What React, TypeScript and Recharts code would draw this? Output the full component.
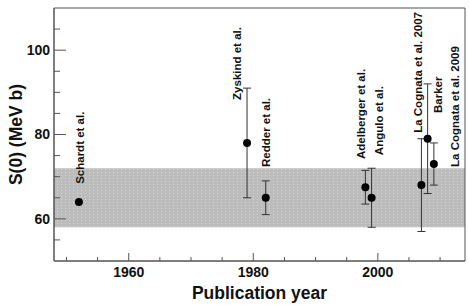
import React from 'react';
import { ComposedChart, Scatter, XAxis, YAxis, ErrorBar, ReferenceArea } from 'recharts';

const authors = ['Schardt et al.', 'Zyskind et al.', 'Redder et al.', 'Adelberger et al.', 'Angulo et al.', 'La Cognata et al. 2007', 'Barker', 'La Cognata et al. 2009'];
const years = [1952, 1979, 1982, 1998, 1999, 2007, 2008, 2009];
const s0Values = [64, 78, 65, 67.5, 65, 68, 79, 73];
const s0Errors = [0, 13, 4, 4, 7, 11, 13, 5];
// annotation anchors (data units): year, S(0) at start of rotated text
const labelYears = [1952.2, 1977.4, 1982.1, 1997.2, 2000.1, 2006.4, 2009.6, 2012.3];
const labelValues = [68.3, 88.2, 72.3, 74.2, 75.1, 80.4, 85.1, 72.3];
const bandLow = 58;
const bandHigh = 72;
const xDomain = [1948, 2014];
const yDomain = [50, 110];
const xTicks = [1950, 1955, 1960, 1965, 1970, 1975, 1980, 1985, 1990, 1995, 2000, 2005, 2010];
const xLabels = [1960, 1980, 2000];
const yTicks = [55, 60, 65, 70, 75, 80, 85, 90, 95, 100, 105];
const yLabels = [60, 80, 100];

const points = years.map((y, i) => ({ year: y, s: s0Values[i], err: s0Errors[i] }));
const labels = authors.map((a, i) => ({ year: labelYears[i], s: labelValues[i], name: a }));
const xTickMarks = xTicks.map((t) => ({ year: t, s: yDomain[0], major: xLabels.includes(t) }));
const yTickMarks = yTicks.map((t) => ({ year: xDomain[0], s: t, major: yLabels.includes(t) }));

const FONT = '"Liberation Sans", Arial, Helvetica, sans-serif';
const AXIS = '#555';

const Dot = (p: any) => <circle cx={p.cx} cy={p.cy} r={4} fill="#000" />;

const XMark = (p: any) => (
  <line x1={p.cx} x2={p.cx} y1={p.cy} y2={p.cy - (p.payload.major ? 8 : 4)} stroke={AXIS} strokeWidth={1} />
);
const YMark = (p: any) => (
  <line x1={p.cx} x2={p.cx + (p.payload.major ? 12 : 6)} y1={p.cy} y2={p.cy} stroke={AXIS} strokeWidth={1} />
);

const Label = (p: any) => (
  <text
    x={p.cx}
    y={p.cy}
    dy="0.36em"
    transform={`rotate(-90 ${p.cx} ${p.cy})`}
    fontFamily={FONT}
    fontWeight="bold"
    fontSize={11.5}
    fill="#111"
  >
    {p.payload.name}
  </text>
);

const tickStyle = { fontFamily: FONT, fontWeight: 'bold', fontSize: 14, fill: '#111' };

export default function App() {
  return (
    <div style={{ position: 'absolute', left: 0, top: 0, background: '#fff' }}>
      <ComposedChart width={469} height={305} margin={{ top: 8, right: 4, bottom: 0, left: 0 }}>
        <defs>
          <pattern id="band" width="4" height="3" patternUnits="userSpaceOnUse">
            <rect width="4" height="3" fill="#bcbcbc" />
            <rect x="1" y="1" width="1" height="1" fill="#d4d4d4" />
          </pattern>
        </defs>
        <XAxis
          type="number"
          dataKey="year"
          domain={xDomain}
          ticks={xLabels}
          tick={tickStyle}
          tickSize={0}
          tickMargin={6}
          tickLine={false}
          axisLine={{ stroke: AXIS }}
          height={44}
          allowDataOverflow
          label={{ value: 'Publication year', position: 'insideBottom', offset: 6, fontFamily: FONT, fontWeight: 'bold', fontSize: 17.5, fill: '#111' }}
        />
        <YAxis
          type="number"
          dataKey="s"
          domain={yDomain}
          ticks={yLabels}
          tick={tickStyle}
          tickSize={0}
          tickMargin={4}
          tickLine={false}
          axisLine={{ stroke: AXIS }}
          width={54}
          allowDataOverflow
          label={{ value: 'S(0) (MeV b)', angle: -90, position: 'insideLeft', offset: 16, style: { textAnchor: 'middle' }, fontFamily: FONT, fontWeight: 'bold', fontSize: 17.5, fill: '#111' }}
        />
        <Scatter data={xTickMarks} dataKey="s" shape={XMark} isAnimationActive={false} />
        <Scatter data={yTickMarks} dataKey="s" shape={YMark} isAnimationActive={false} />
        <ReferenceArea x1={xDomain[0]} x2={xDomain[1]} y1={bandLow} y2={bandHigh} fill="url(#band)" fillOpacity={1} stroke="none" />
        <ReferenceArea x1={xDomain[0]} x2={xDomain[1]} y1={yDomain[0]} y2={yDomain[1]} fill="none" stroke={AXIS} strokeWidth={1} />
        <Scatter data={points} dataKey="s" shape={Dot} isAnimationActive={false}>
          <ErrorBar dataKey="err" direction="y" width={4} stroke="#333" strokeWidth={1} />
        </Scatter>
        <Scatter data={labels} dataKey="s" shape={Label} isAnimationActive={false} />
      </ComposedChart>
    </div>
  );
}
